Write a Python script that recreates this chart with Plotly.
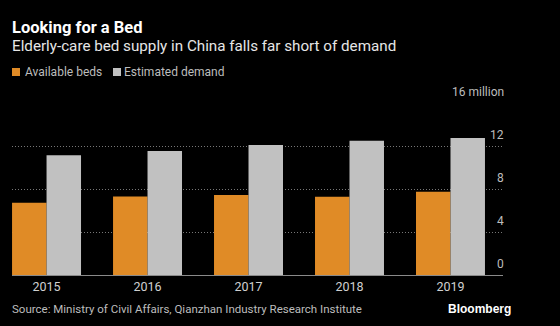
import plotly.graph_objects as go

years = ["2015", "2016", "2017", "2018", "2019"]
available_beds = [6.72, 7.30, 7.44, 7.28, 7.75]
estimated_demand = [11.13, 11.53, 12.09, 12.49, 12.74]
y_ticks = [0, 4, 8, 12, 16]
y_tick_labels = ["0", "4", "8", "12", "16 million"]
series_names = ["Available beds", "Estimated demand"]

ORANGE = "#e08b26"
GREY = "#c1c1c1"
FONT = "Roboto"

# plot area in pixels
L, R, T, B = 12, 503, 103, 275
W, H = R - L, B - T


def px(x):
    return (x - L) / W


def py(y):
    return (B - y) / H


fig = go.Figure()
fig.add_trace(go.Bar(x=years, y=available_beds, name=series_names[0],
                     marker=dict(color=ORANGE, line=dict(width=0))))
fig.add_trace(go.Bar(x=years, y=estimated_demand, name=series_names[1],
                     marker=dict(color=GREY, line=dict(width=0))))

for v, lab in zip(y_ticks, y_tick_labels):
    fig.add_annotation(x=1, xref="paper", y=v, yref="y", text=lab,
                       xanchor="right", yanchor="bottom", yshift=2, xshift=3,
                       showarrow=False,
                       font=dict(family=FONT, size=12, color="#bdbdbd"))

# title & subtitle
fig.add_annotation(x=px(10), xref="paper", y=py(27), yref="paper",
                   xanchor="left", yanchor="middle", showarrow=False,
                   text="<b>Looking for a Bed</b>",
                   font=dict(family=FONT, size=16.5, color="white"))
fig.add_annotation(x=px(10), xref="paper", y=py(46), yref="paper",
                   xanchor="left", yanchor="middle", showarrow=False,
                   text="Elderly-care bed supply in China falls far short of demand",
                   font=dict(family=FONT, size=15.2, color="#e6e6e6"))

# legend
legend_items = [(12, 23, ORANGE, series_names[0]), (113, 122, GREY, series_names[1])]
for sx, tx, col, name in legend_items:
    fig.add_shape(type="rect", xref="paper", yref="paper",
                  x0=px(sx), x1=px(sx + 8), y0=py(76), y1=py(68),
                  fillcolor=col, line=dict(width=0))
    fig.add_annotation(x=px(tx), xref="paper", y=py(72), yref="paper",
                       xanchor="left", yanchor="middle", showarrow=False,
                       text=name, font=dict(family=FONT, size=12, color="#bdbdbd"))

# footer
fig.add_annotation(x=px(10), xref="paper", y=py(309), yref="paper",
                   xanchor="left", yanchor="middle", showarrow=False,
                   text="Source: Ministry of Civil Affairs, Qianzhan Industry Research Institute",
                   font=dict(family=FONT, size=11.5, color="#bdbdbd"))
fig.add_annotation(x=px(513), xref="paper", y=py(309), yref="paper",
                   xanchor="right", yanchor="middle", showarrow=False,
                   text="<b>Bloomberg</b>",
                   font=dict(family="Liberation Sans", size=12, color="white"))

fig.update_layout(
    width=560, height=326,
    margin=dict(l=L, r=560 - R, t=T, b=326 - B),
    paper_bgcolor="black", plot_bgcolor="black",
    barmode="group", bargap=0.317, bargroupgap=0,
    font=dict(family=FONT, color="#bdbdbd", size=12),
    showlegend=False,
    xaxis=dict(range=[-0.342, 4.52], showgrid=False, zeroline=False,
               showline=True, linecolor="#8a8a8a", linewidth=1,
               ticks="", tickfont=dict(family=FONT, size=12.5, color="#d0d0d0")),
    yaxis=dict(range=[0, 16], tickvals=y_ticks, showticklabels=False,
               showgrid=True, gridcolor="#777777", griddash="1px,2px", gridwidth=1,
               zeroline=False, showline=False, ticks=""),
)

fig.write_html("out.html")
